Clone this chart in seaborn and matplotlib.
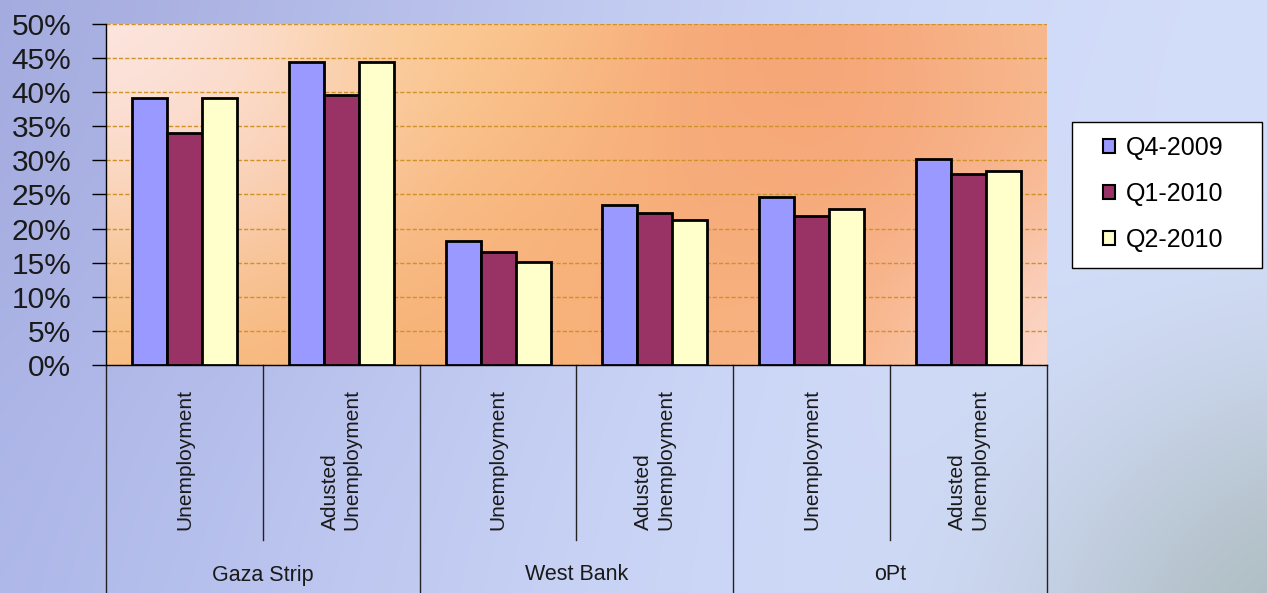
import numpy as np
import pandas as pd
import matplotlib.pyplot as plt
import matplotlib.colors as mcolors
import matplotlib.transforms as mtransforms
import seaborn as sns
from matplotlib.patches import Patch, Rectangle
from matplotlib.ticker import PercentFormatter, MultipleLocator

# ---- data ----
regions = ["Gaza Strip", "West Bank", "oPt"]
measures = ["Unemployment", "Adusted\nUnemployment"]
quarters = ["Q4-2009", "Q1-2010", "Q2-2010"]
q4_2009 = [0.392, 0.444, 0.182, 0.235, 0.247, 0.302]
q1_2010 = [0.340, 0.396, 0.165, 0.223, 0.219, 0.280]
q2_2010 = [0.392, 0.444, 0.151, 0.212, 0.229, 0.285]
bar_colors = ["#9999FF", "#993366", "#FFFFCC"]

slots = [f"{r}|{m}" for r in regions for m in measures]
rows = []
for qname, vals in zip(quarters, [q4_2009, q1_2010, q2_2010]):
    for s, v in zip(slots, vals):
        rows.append({"slot": s, "quarter": qname, "rate": v})
df = pd.DataFrame(rows)


def soft_gradient(anchors, w, h, step=3):
    """Smooth colour field from anchor colours, gaussian weights (pixels)."""
    xx, yy = np.meshgrid(np.arange(0, w, step), np.arange(0, h, step))
    num = np.zeros(xx.shape + (3,))
    den = np.zeros(xx.shape)
    for (px, py), col, sig in anchors:
        wt = np.exp(-((xx - px) ** 2 + (yy - py) ** 2) / (2 * sig ** 2))
        num += wt[..., None] * np.array(mcolors.to_rgb(col))
        den += wt
    return num / den[..., None]


plt.rcParams['font.family'] = ['Liberation Sans', 'DejaVu Sans']

W, H = 1267, 593
fig = plt.figure(figsize=(W / 100, H / 100), dpi=100)

# page background
bg = fig.add_axes([0, 0, 1, 1], zorder=-10)
bg.imshow(soft_gradient([
    ((0, 0), "#9aa0d8", 280),
    ((350, 0), "#b6bee9", 280),
    ((750, 0), "#c9d3f5", 280),
    ((1200, 40), "#d4dffb", 280),
    ((0, 593), "#a8b2e7", 280),
    ((420, 593), "#c8d2f5", 280),
    ((900, 593), "#d0dbf8", 280),
    ((1150, 330), "#d6e1fc", 250),
    ((1267, 593), "#8a9c8a", 160),
], W, H), aspect='auto', extent=[0, 1, 0, 1])
bg.axis('off')

x0, x1, y_top, y_zero = 106, 1047, 24, 365
ax_box = [x0 / W, 1 - y_zero / H, (x1 - x0) / W, (y_zero - y_top) / H]

# plot-area background
pa = fig.add_axes(ax_box, zorder=-5)
pa.imshow(soft_gradient([
    ((20, 20), "#fde9e4", 110),
    ((130, 110), "#fbe1e4", 110),
    ((320, 20), "#fcd29a", 130),
    ((20, 320), "#f7bf80", 130),
    ((260, 330), "#f6b070", 140),
    ((430, 200), "#f8b27a", 150),
    ((650, 150), "#f6a676", 150),
    ((790, 60), "#f5a074", 130),
    ((930, 20), "#f9c49a", 110),
    ((700, 330), "#f8b888", 130),
    ((930, 330), "#fde2de", 110),
], x1 - x0, y_zero - y_top), aspect='auto', extent=[0, 1, 0, 1])
pa.axis('off')

ax = fig.add_axes(ax_box)
ax.patch.set_alpha(0)

sns.barplot(data=df, x="slot", y="rate", hue="quarter", palette=bar_colors,
            saturation=1, width=0.67, gap=0, edgecolor="black", linewidth=2,
            legend=False, ax=ax, zorder=3)

ax.set_ylim(0, 0.5)
ax.set_xlim(-0.5, len(slots) - 0.5)
ax.yaxis.set_major_locator(MultipleLocator(0.05))
ax.yaxis.set_major_formatter(PercentFormatter(1.0, decimals=0))
ax.grid(axis='y', linestyle=(0, (3, 1.5)), color="#cf9228", linewidth=1, zorder=1)
ax.set_axisbelow(True)
ax.tick_params(axis='y', labelsize=21.5, length=10, width=1, color='black',
               labelcolor='#1a1a1a', pad=15)
ax.tick_params(axis='x', length=0, labelbottom=False)
ax.set_xlabel("")
ax.set_ylabel("")
for side in ["top", "right"]:
    ax.spines[side].set_visible(False)
for side in ["left", "bottom"]:
    ax.spines[side].set_color("black")
    ax.spines[side].set_linewidth(1)

# category table under the axis
trans = mtransforms.blended_transform_factory(ax.transData, ax.transAxes)
span = y_zero - y_top
y_bottom = -(H - y_zero) / span
y_mid = -(540 - y_zero) / span
for i, s in enumerate(slots):
    measure = s.split("|")[1]
    ax.text(i, -(459 - y_zero) / span, measure, transform=trans, rotation=90,
            ha='center', va='center', multialignment='left', fontsize=15,
            color='#1a1a1a')
for k, r in enumerate(regions):
    c = 2 * k + 0.5
    ax.text(c, -(575 - y_zero) / span, r, transform=trans, ha='center',
            va='center', fontsize=15.5, color='#1a1a1a')
    ax.plot([c, c], [0, y_mid], transform=trans, color='#222222', lw=1,
            clip_on=False)
for xb in [-0.5, 1.5, 3.5, 5.5]:
    ax.plot([xb, xb], [0, y_bottom], transform=trans, color='#222222', lw=1,
            clip_on=False)

# legend: frame drawn as its own box, entries placed inside
fig.patches.append(Rectangle((1072 / W, 1 - 268 / H), 190 / W, 146 / H,
                             transform=fig.transFigure, facecolor='white',
                             edgecolor='black', linewidth=1, zorder=5))
handles = [Patch(facecolor=c, edgecolor='black', linewidth=1.5, label=q)
           for c, q in zip(bar_colors, quarters)]
leg = fig.legend(handles=handles, loc='center left',
                 bbox_to_anchor=(1103 / W, 1 - 194 / H), fontsize=18,
                 frameon=False, handlelength=0.48, handleheight=0.48,
                 handletextpad=0.45, labelspacing=0.88, borderpad=0,
                 borderaxespad=0)
leg.set_zorder(6)

fig.savefig("out.png", dpi=100)
